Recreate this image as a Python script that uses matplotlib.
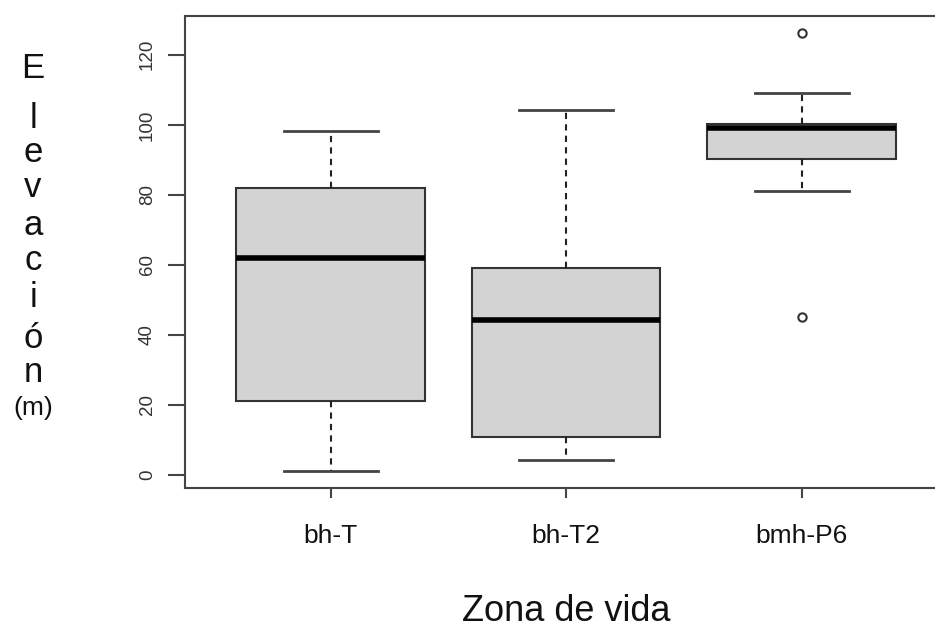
import matplotlib.pyplot as plt

plt.rcParams['font.family'] = ['Liberation Sans', 'DejaVu Sans']

# box statistics per zona de vida (m)
zonas = ['bh-T', 'bh-T2', 'bmh-P6']
q1 = [21.1, 10.7, 90.1]
mediana = [62.1, 44.2, 99.2]
q3 = [81.9, 59.0, 100.2]
bigote_inf = [1.1, 4.3, 81.1]
bigote_sup = [98.3, 104.1, 109.1]
atipicos = [[], [], [126.2, 45.0]]
yticks = [0, 20, 40, 60, 80, 100, 120]

stats = []
for i in range(len(zonas)):
    stats.append({'label': zonas[i], 'q1': q1[i], 'med': mediana[i], 'q3': q3[i],
                  'whislo': bigote_inf[i], 'whishi': bigote_sup[i],
                  'fliers': atipicos[i]})

fig = plt.figure(figsize=(9.35, 6.32), dpi=100)
ax = fig.add_axes([0.198, 0.228, 0.815, 0.747])

ax.bxp(stats, positions=[1, 2, 3], widths=0.8, patch_artist=True,
       boxprops=dict(facecolor='#d3d3d3', edgecolor='#333333', linewidth=1.5),
       medianprops=dict(color='black', linewidth=4),
       whiskerprops=dict(color='#222222', linewidth=1.5, linestyle=(0, (3, 2.5))),
       capprops=dict(color='#444444', linewidth=2),
       flierprops=dict(marker='o', markersize=6, markerfacecolor='white',
                       markeredgecolor='#333333', markeredgewidth=1.5))

ax.set_xlim(0.382, 3.618)
ax.set_ylim(-3.71, 131.14)

for s in ax.spines.values():
    s.set_color('#444444')
    s.set_linewidth(1.5)

ax.set_yticks(yticks)
ax.set_yticklabels([str(v) for v in yticks], rotation=90, va='center',
                   fontsize=13.5, color='#333333')
ax.tick_params(axis='y', length=12, width=1.5, color='#444444', pad=9)
ax.set_xticks([1, 2, 3])
ax.set_xticklabels(zonas, fontsize=19, color='#111111')
ax.tick_params(axis='x', length=7, width=1.5, color='#444444', pad=19)

ax.set_xlabel('Zona de vida', fontsize=26, color='#111111', labelpad=33)

# vertical stacked y label
letras = ['E', 'l', 'e', 'v', 'a', 'c', 'i', 'ó', 'n']
base_px = [78, 128, 162, 197, 235, 270, 307, 348, 382]
for ch, yb in zip(letras, base_px):
    fig.text(33 / 935, 1 - yb / 632, ch, fontsize=25, ha='center',
             va='baseline', color='#111111')
fig.text(33 / 935, 1 - 415 / 632, '(m)', fontsize=19, ha='center',
         va='baseline', color='#111111')

fig.savefig('out.png', dpi=100)
